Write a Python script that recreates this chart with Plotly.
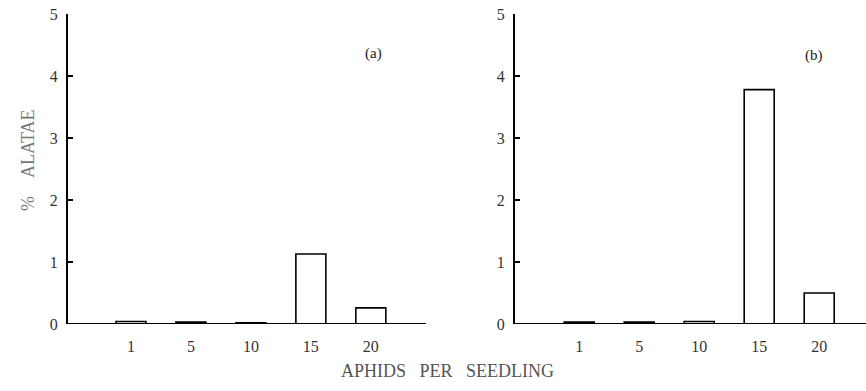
import plotly.graph_objects as go

categories = ["1", "5", "10", "15", "20"]
values_a = [0.04, 0.03, 0.02, 1.13, 0.26]
values_b = [0.03, 0.03, 0.04, 3.78, 0.50]
y_ticks = [0, 1, 2, 3, 4, 5]

FONT = "Liberation Serif"

fig = go.Figure()
fig.add_trace(go.Bar(x=categories, y=values_a, xaxis="x", yaxis="y", width=0.5,
                     marker=dict(color="white", line=dict(color="black", width=1.6)),
                     showlegend=False))
fig.add_trace(go.Bar(x=categories, y=values_b, xaxis="x2", yaxis="y2", width=0.5,
                     marker=dict(color="white", line=dict(color="black", width=1.6)),
                     showlegend=False))

H = 391
W = 866
ydom = [(H - 324) / H, (H - 14) / H]

xcommon = dict(type="category", showgrid=False, zeroline=False, showline=False,
               ticks="", tickfont=dict(family=FONT, size=16, color="#333"),
               ticklabelstandoff=11, automargin=False, fixedrange=True)
ycommon = dict(range=[0, 5], tickvals=y_ticks, showgrid=False, zeroline=False,
               showline=True, linecolor="black", linewidth=2, ticks="inside",
               ticklen=5, tickwidth=1.5, tickcolor="black",
               tickfont=dict(family=FONT, size=16, color="#333"),
               ticklabelstandoff=5, automargin=False, fixedrange=True)

fig.update_layout(
    width=W, height=H,
    margin=dict(l=0, r=0, t=0, b=0),
    paper_bgcolor="white", plot_bgcolor="white",
    xaxis=dict(domain=[68 / W, 426 / W], range=[-1.05, 4.92], anchor="y", **xcommon),
    yaxis=dict(domain=ydom, anchor="x", **ycommon),
    xaxis2=dict(domain=[515 / W, 1.0], range=[-1.07, 4.78], anchor="y2", **xcommon),
    yaxis2=dict(domain=ydom, anchor="x2", **ycommon),
    shapes=[
        dict(type="line", xref="x domain", yref="y", x0=0, x1=1, y0=0, y1=0,
             line=dict(color="black", width=2.2)),
        dict(type="line", xref="x2 domain", yref="y2", x0=0, x1=1, y0=0, y1=0,
             line=dict(color="black", width=2.2)),
    ],
    annotations=[
        dict(text="(a)", x=373 / W, y=(H - 43) / H, xref="paper", yref="paper",
             showarrow=False, font=dict(family=FONT, size=15, color="#222")),
        dict(text="(b)", x=825 / W, y=(H - 45) / H, xref="paper", yref="paper",
             showarrow=False, font=dict(family=FONT, size=15, color="#222")),
        dict(text="%\u00a0\u00a0\u00a0\u00a0ALATAE", x=16 / W, y=(H - 160) / H, xref="paper", yref="paper",
             showarrow=False, textangle=-90, font=dict(family=FONT, size=18, color="#777")),
        dict(text="APHIDS\u00a0\u00a0\u00a0PER\u00a0\u00a0\u00a0SEEDLING", x=447 / W, y=(H - 383) / H,
             xref="paper", yref="paper", showarrow=False,
             font=dict(family=FONT, size=18, color="#555")),
    ],
)

fig.write_html("out.html", config={"displayModeBar": False},
               post_script="document.body.style.margin='0';")
